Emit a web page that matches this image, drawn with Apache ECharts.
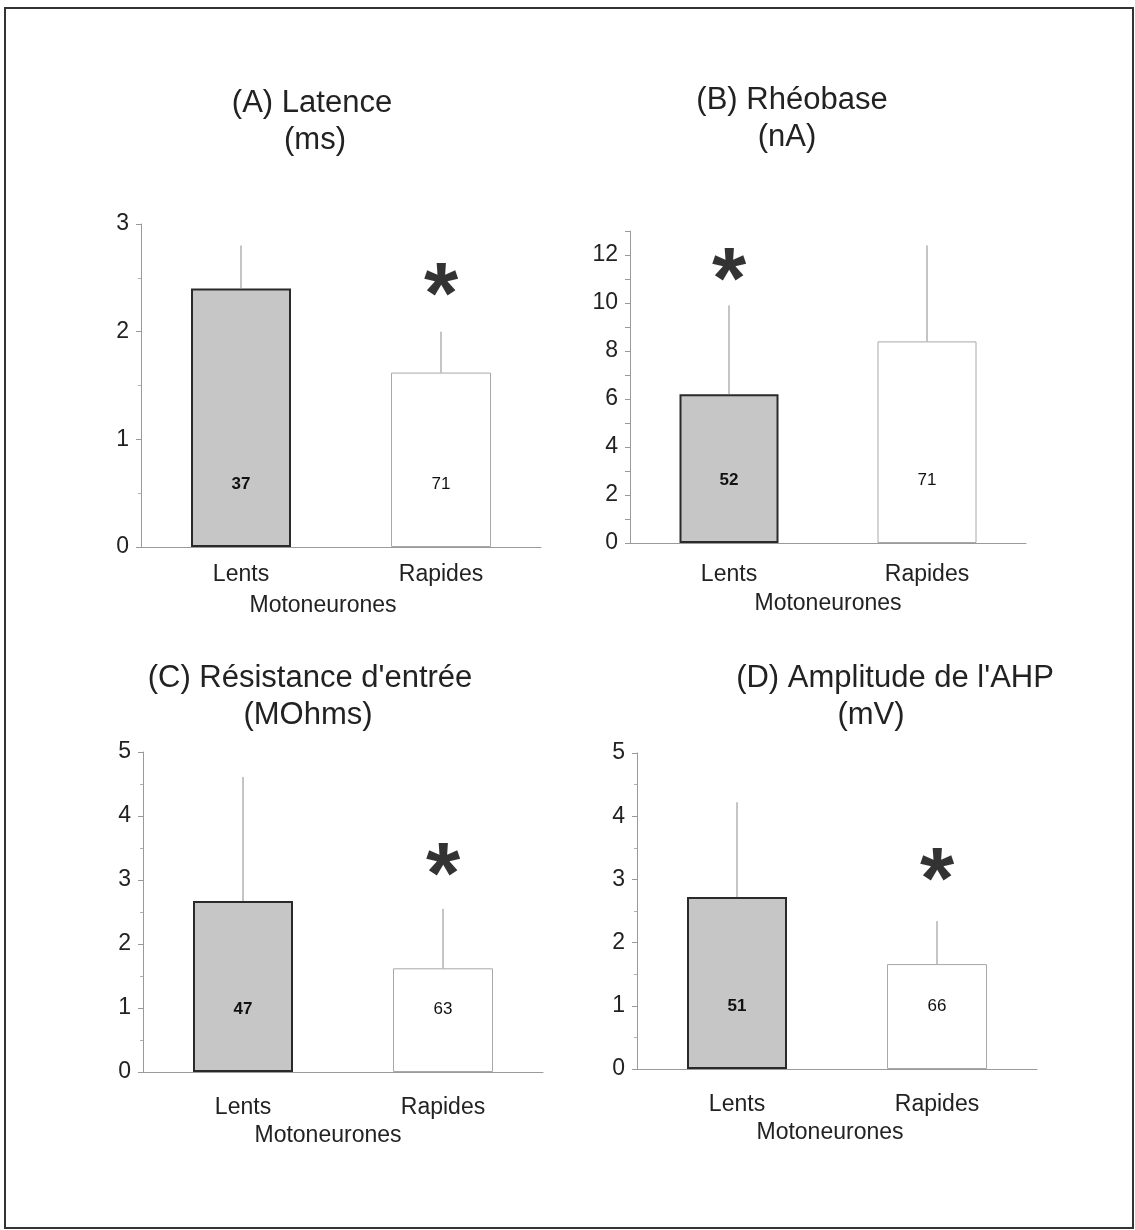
<!DOCTYPE html>
<html>
<head>
<meta charset="utf-8">
<script src="https://cdn.jsdelivr.net/npm/echarts@6/dist/echarts.min.js"></script>
<style>
  html, body { margin: 0; background: #fff; }
  #chart { width: 1135px; height: 1230px; }
</style>
</head>
<body>
<div id="chart"></div>
<script>
// données (moyenne, écart-type, effectif)
const categories = ['Lents', 'Rapides'];

const latenceMean = [2.4, 1.62];
const latenceSd = [0.4, 0.38];
const latenceN = [37, 71];
const latenceStar = [null, 2.46];

const rheobaseMean = [6.2, 8.4];
const rheobaseSd = [3.7, 4.0];
const rheobaseN = [52, 71];
const rheobaseStar = [11.5, null];

const resistanceMean = [2.67, 1.62];
const resistanceSd = [1.94, 0.93];
const resistanceN = [47, 63];
const resistanceStar = [null, 3.28];

const ahpMean = [2.72, 1.66];
const ahpSd = [1.5, 0.68];
const ahpN = [51, 66];
const ahpStar = [null, 3.2];

const FONT = "'Liberation Sans', Arial, sans-serif";

const panels = [
  { title: ['(A) Latence', '(ms)'], tx: [312, 315], ty: 103,
    mean: latenceMean, sd: latenceSd, n: latenceN, star: latenceStar, max: 3, interval: 1,
    grid: { left: 141, top: 224, width: 400, height: 323 }, margin: 16, nameGap: 47, shift: 36 },
  { title: ['(B) Rhéobase', '(nA)'], tx: [792, 787], ty: 100,
    mean: rheobaseMean, sd: rheobaseSd, n: rheobaseN, star: rheobaseStar, max: 13, interval: 1,
    grid: { left: 630, top: 231, width: 396, height: 312 }, margin: 20, nameGap: 49, shift: 0 },
  { title: ["(C) Résistance d'entrée", '(MOhms)'], tx: [310, 308], ty: 678,
    mean: resistanceMean, sd: resistanceSd, n: resistanceN, star: resistanceStar, max: 5, interval: 1,
    grid: { left: 143, top: 752, width: 400, height: 320 }, margin: 24, nameGap: 52, shift: 30 },
  { title: ["(D) Amplitude de l'AHP", '(mV)'], tx: [895, 871], ty: 678,
    mean: ahpMean, sd: ahpSd, n: ahpN, star: ahpStar, max: 5, interval: 1,
    grid: { left: 637, top: 753, width: 400, height: 316 }, margin: 24, nameGap: 52, shift: 14 }
];

const grids = [], xAxes = [], yAxes = [], series = [], graphics = [];

graphics.push({
  type: 'rect', shape: { x: 5, y: 8, width: 1128, height: 1220 },
  style: { fill: 'none', stroke: '#333', lineWidth: 2 }
});

panels.forEach((p, i) => {
  grids.push(p.grid);

  p.title.forEach((t, k) => {
    graphics.push({
      type: 'text', x: p.tx[k], y: p.ty + k * 37,
      style: { text: t, font: '31px ' + FONT, fill: '#222', textAlign: 'center', textVerticalAlign: 'middle' }
    });
  });

  xAxes.push({
    type: 'category', gridIndex: i, data: categories,
    axisLine: { lineStyle: { color: '#9a9a9a', width: 1 } },
    axisTick: { show: false },
    axisLabel: { fontSize: 23, color: '#222', fontFamily: FONT, margin: p.margin },
    name: 'Motoneurones', nameLocation: 'middle', nameGap: p.nameGap,
    nameTextStyle: { fontSize: 23, color: '#222', fontFamily: FONT, padding: [0, p.shift, 0, 0] }
  });

  yAxes.push({
    type: 'value', gridIndex: i, min: 0, max: p.max, interval: p.interval,
    axisLine: { show: true, lineStyle: { color: '#9a9a9a', width: 1 } },
    axisTick: { show: true, length: 5, lineStyle: { color: '#9a9a9a' } },
    minorTick: { show: p.max <= 5, splitNumber: 2, length: 3, lineStyle: { color: '#b0b0b0' } },
    splitLine: { show: false },
    axisLabel: {
      fontSize: 23, color: '#222', fontFamily: FONT, margin: 12,
      formatter: v => (p.max > 5 && v % 2) ? '' : String(v)
    }
  });

  series.push({
    type: 'bar', xAxisIndex: i, yAxisIndex: i, barWidth: '50%',
    data: p.mean.map((m, k) => ({
      value: m,
      itemStyle: k === 0
        ? { color: '#c6c6c6', borderColor: '#2a2a2a', borderWidth: 2 }
        : { color: '#ffffff', borderColor: '#a8a8a8', borderWidth: 1 },
      label: {
        show: true, position: 'insideBottom', distance: 54,
        formatter: String(p.n[k]), fontSize: 17, fontFamily: FONT,
        color: '#111', fontWeight: k === 0 ? 'bold' : 'normal'
      }
    })),
    z: 2
  });

  series.push({
    type: 'custom', xAxisIndex: i, yAxisIndex: i,
    data: p.mean.map((m, k) => [k, m, m + p.sd[k]]),
    renderItem: (params, api) => {
      const a = api.coord([api.value(0), api.value(1)]);
      const b = api.coord([api.value(0), api.value(2)]);
      return {
        type: 'line',
        shape: { x1: a[0], y1: a[1], x2: b[0], y2: b[1] },
        style: { stroke: '#8a8a8a', lineWidth: 1 }
      };
    },
    z: 3
  });

  series.push({
    type: 'scatter', xAxisIndex: i, yAxisIndex: i, symbolSize: 1,
    itemStyle: { color: 'rgba(0,0,0,0)' },
    data: p.star.map((s, k) => s == null ? null : [k, s]).filter(d => d),
    label: {
      show: true, position: 'inside', formatter: '*', fontSize: 88,
      fontWeight: 'bold', fontFamily: FONT, color: '#000', offset: [0, 17]
    },
    z: 4
  });
});

const chart = echarts.init(document.getElementById('chart'));
chart.setOption({
  animation: false,
  backgroundColor: '#fff',
  grid: grids,
  xAxis: xAxes,
  yAxis: yAxes,
  series: series,
  graphic: graphics
});
</script>
</body>
</html>
